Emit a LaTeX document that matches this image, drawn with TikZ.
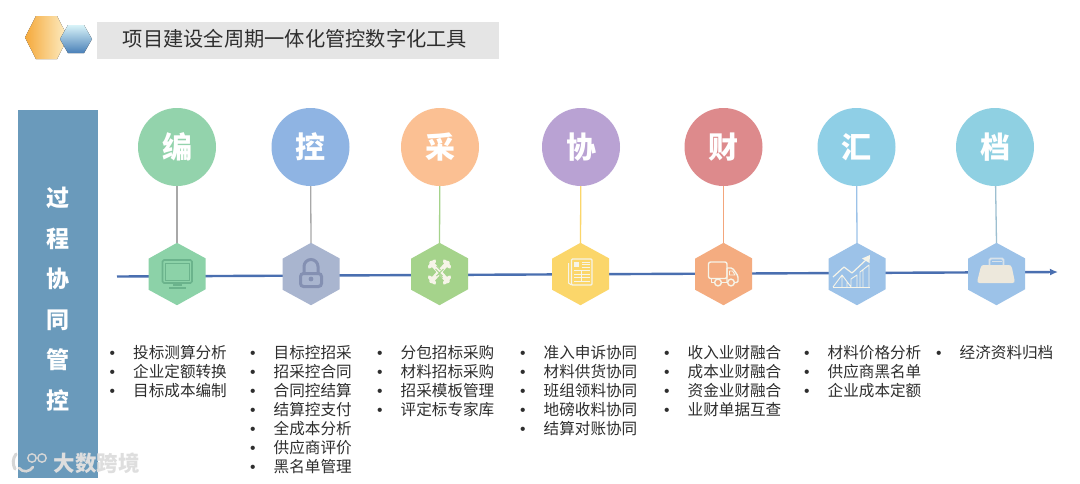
\documentclass[tikz,border=0pt]{standalone}
\usepackage{fontspec}
\setmainfont{Noto Sans CJK SC}
\newfontfamily\latinb{Liberation Sans}
\usetikzlibrary{arrows.meta}
\definecolor{panel}{HTML}{6A9ABB}
\definecolor{spine}{HTML}{4A6FB0}
\definecolor{cA}{HTML}{93D3AC}
\definecolor{cB}{HTML}{8FB4E3}
\definecolor{cC}{HTML}{FBC093}
\definecolor{cD}{HTML}{B9A2D3}
\definecolor{cE}{HTML}{DD8A8C}
\definecolor{cF}{HTML}{8FCFE6}
\definecolor{cG}{HTML}{8FD0E2}
\definecolor{hA}{HTML}{8CD2A8}
\definecolor{hB}{HTML}{A9B5CF}
\definecolor{hC}{HTML}{A5D38B}
\definecolor{hD}{HTML}{FBD66A}
\definecolor{hE}{HTML}{F4AC80}
\definecolor{hF}{HTML}{9CC2E8}
\definecolor{hG}{HTML}{9CC2E8}
\definecolor{sA}{HTML}{A8A8A8}
\definecolor{sB}{HTML}{A8A8A8}
\definecolor{sC}{HTML}{A5D38B}
\definecolor{sD}{HTML}{FBD66A}
\definecolor{sE}{HTML}{F3A67C}
\definecolor{sF}{HTML}{9CC2E8}
\definecolor{sG}{HTML}{9DBFD0}
\definecolor{iconA}{HTML}{6BB38C}
\definecolor{iconB}{HTML}{8490B2}
\definecolor{iconW}{HTML}{F6F4E8}
\definecolor{bagbody}{HTML}{EDE8DC}
\definecolor{baghandle}{HTML}{D8E2EA}
\tikzset{
  x=1pt,y=-1pt,
  topic/.style={circle,minimum size=78pt,inner sep=0pt,text=white,font=\fontsize{30}{30}\selectfont\bfseries},
  hexbox/.style={minimum width=57pt,minimum height=62pt,inner sep=0pt},
  stem/.style={line width=1.3pt},
  spineline/.style={spine,line width=2.4pt,-{Latex[length=8pt,width=7pt]}},
  listing/.style={anchor=north west,align=left,inner sep=0pt,text=black!82,font=\fontsize{15.6}{19}\selectfont},
  sidechar/.style={text=white,font=\fontsize{23}{23}\selectfont\bfseries,inner sep=0pt},
  iconw/.style={draw=iconW,line width=1.2pt,line join=round},
}
\newcommand{\hexa}[4]{%
  \node[hexbox] (#1) at (#2,#3) {};
  \fill[#4] (#1.north) -- ++(28.5,15.5) -- ++(0,31) -- (#1.south) -- ++(-28.5,-15.5) -- ++(0,-31) -- cycle;
}
\newcommand{\bul}{\makebox[23.5pt][l]{{\latinb •}}}
\begin{document}
\begin{tikzpicture}
\useasboundingbox (0,0) rectangle (1080,483);
\fill[white] (0,0) rectangle (1080,483);

% header
\definecolor{logoL}{HTML}{F5A93B}
\definecolor{logoR}{HTML}{FDEFC8}
\definecolor{logoT}{HTML}{D8F3F8}
\definecolor{logoM}{HTML}{86BCC6}
\definecolor{logoB}{HTML}{4A80B8}
\fill[left color=logoL,right color=logoR]
  (25,37.5) -- (36,16) -- (57,16) -- (68,37.5) -- (57,59) -- (36,59) -- cycle;
\fill[top color=logoT,middle color=logoM,bottom color=logoB]
  (60,39) -- (68,25) -- (84,25) -- (92,39) -- (84,53) -- (68,53) -- cycle;
\fill[black!10] (97,22) rectangle (499,59);
\node[inner sep=0pt,text=black!82,font=\fontsize{20.25}{22}\selectfont] (title) at (295,38.5) {项目建设全周期一体化管控数字化工具};

% side panel
\fill[panel] (18,110) rectangle (98,478);
\node[sidechar] (s1) at (58,198) {过};
\node[sidechar] (s2) at (58,239) {程};
\node[sidechar] (s3) at (58,279) {协};
\node[sidechar] (s4) at (58,320) {同};
\node[sidechar] (s5) at (58,360) {管};
\node[sidechar] (s6) at (58,400) {控};

% spine
\coordinate (spineA) at (117,276.5);
\coordinate (spineB) at (1058,272);
\draw[spineline] (spineA) -- (spineB);

% circles
\node[topic,fill=cA] (c1) at (177,147) {编};
\node[topic,fill=cB] (c2) at (310.5,147) {控};
\node[topic,fill=cC] (c3) at (440,147) {采};
\node[topic,fill=cD] (c4) at (581,147) {协};
\node[topic,fill=cE] (c5) at (723.5,147) {财};
\node[topic,fill=cF] (c6) at (856.5,147) {汇};
\node[topic,fill=cG] (c7) at (995,147) {档};

% hexagons
\hexa{h1}{177}{274}{hA}
\hexa{h2}{311}{274}{hB}
\hexa{h3}{439.5}{274}{hC}
\hexa{h4}{580.5}{274}{hD}
\hexa{h5}{723.5}{274}{hE}
\hexa{h6}{857}{274}{hF}
\hexa{h7}{996.5}{274}{hG}

% stems
\draw[stem,sA] (c1) -- (h1.north);
\draw[stem,sB] (c2) -- (h2.north);
\draw[stem,sC] (c3) -- (h3.north);
\draw[stem,sD] (c4) -- (h4.north);
\draw[stem,sE] (c5) -- (h5.north);
\draw[stem,sF] (c6) -- (h6.north);
\draw[stem,sG] (c7) -- (h7.north);

% icon 1: monitor
\begin{scope}[shift={(h1.center)}]
  \draw[iconA,line width=1.6pt,rounded corners=1.5pt] (-14.5,-14) rectangle (15,9);
  \draw[iconA,line width=.8pt] (-11.5,-11) rectangle (12,6);
  \draw[iconA,line width=1.4pt] (-4,11) -- (5,11);
  \draw[iconA,line width=1.6pt] (-8,14) -- (9,14);
\end{scope}
% icon 2: lock
\begin{scope}[shift={(h2.center)}]
  \draw[iconB,line width=3pt,rounded corners=3pt] (-10.5,-0.5) rectangle (10.5,12.5);
  \draw[iconB,line width=3pt] (-7,-1) -- (-7,-7.5) arc[start angle=180,end angle=360,radius=7] -- (7,-1);
  \fill[iconB] (0,5) circle (2.4);
\end{scope}
% icon 3: cross knot
\begin{scope}[shift={(h3.center)},yshift=2pt]
  \draw[iconW,line width=4.6pt,line cap=round] (-8,-9) -- (8,9) (8,-9) -- (-8,9);
  \draw[iconW,line width=3.6pt,line cap=round]
    (-10,-5) -- (-5,-11) (10,-5) -- (5,-11) (-10,5) -- (-5,11) (10,5) -- (5,11);
  \draw[hC,line width=.8pt] (-4,-3) -- (3,4) (4,-3) -- (-3,4) (-3,-6) -- (1,-2) (3,6) -- (-1,2);
\end{scope}
% icon 4: newspaper
\begin{scope}[shift={(h4.center)}]
  \draw[iconw,rounded corners=1pt,line width=1.3pt] (-9,-15) rectangle (11.5,11);
  \draw[iconw,line width=1pt] (-12,-11) -- (-12,9) -- (-9,11);
  \fill[iconW] (-6.5,-12.5) rectangle (-1.5,-7);
  \draw[iconw,line width=.8pt] (1,-12) -- (9,-12) (1,-9.5) -- (9,-9.5) (1,-7) -- (9,-7)
    (-6.5,-3.5) -- (9,-3.5) (-6.5,0) -- (9,0) (-6.5,3.5) -- (9,3.5) (-6.5,7) -- (9,7) (1,-3.5) -- (1,7);
\end{scope}
% icon 5: truck
\begin{scope}[shift={(h5.center)}]
  \draw[iconw,rounded corners=2pt,line width=1.4pt] (-15,-12) rectangle (3.5,4.5);
  \draw[iconw,line width=1.4pt,rounded corners=1.5pt] (3.5,-6) -- (9,-6) -- (14.5,2) -- (14.5,8.5) -- (11,8.5) (3.5,-6) -- (3.5,8.5);
  \draw[iconw,line width=.8pt] (6,-3) -- (9,-3) -- (11.5,1) -- (6,1) -- cycle;
  \draw[iconw,line width=1.4pt] (-12,4.5) -- (-12,8.5) -- (-9,8.5) (-2,8.5) -- (4,8.5);
  \draw[iconw,line width=1.4pt] (-5.5,8.5) circle (3.4);
  \draw[iconw,line width=1.4pt] (7.5,8.5) circle (3.4);
\end{scope}
% icon 6: chart
\begin{scope}[shift={(h6.center)},xshift=-3pt]
  \draw[iconw,line width=1pt] (-21,13) -- (16,13);
  \draw[iconw,line width=.9pt] (-21,13) -- (-12,1) -- (-3,13) (-12,1) -- (-12,13) (-7,7) -- (-7,13)
    (-3,13) -- (-3,5) -- (3,1) -- (3,13) (6,13) -- (6,-2) -- (15,-9) -- (15,13) (9,-4) -- (9,13);
  \draw[iconw,line width=1.2pt] (-21,3) -- (-10,-7) -- (-2,-1) -- (13,-15);
  \fill[iconW] (16,-19) -- (15.5,-11) -- (8,-15.5) -- cycle;
\end{scope}
% icon 7: weight
\begin{scope}[shift={(h7.center)}]
  \fill[bagbody] (-13,-9) -- (12,-9) .. controls (14,-9) and (15,-8) .. (15.5,-6) -- (18,6) .. controls (18.5,8) and (17.5,9) .. (16,9) -- (-17,9) .. controls (-18.5,9) and (-19.5,8) .. (-19,6) -- (-16,-6) .. controls (-15.5,-8) and (-14.5,-9) .. (-13,-9) -- cycle;
  \draw[baghandle,line width=1.8pt,rounded corners=1.5pt] (-7,-9) -- (-7,-15.5) -- (7,-15.5) -- (7,-9);
  \fill[baghandle] (-5,-13) rectangle (5,-12);
\end{scope}

% lists
\node[listing] (l1) at (109.5,345) {\bul 投标测算分析\\\bul 企业定额转换\\\bul 目标成本编制};
\node[listing] (l2) at (250,345) {\bul 目标控招采\\\bul 招采控合同\\\bul 合同控结算\\\bul 结算控支付\\\bul 全成本分析\\\bul 供应商评价\\\bul 黑名单管理};
\node[listing] (l3) at (377,345) {\bul 分包招标采购\\\bul 材料招标采购\\\bul 招采模板管理\\\bul 评定标专家库};
\node[listing] (l4) at (520,345) {\bul 准入申诉协同\\\bul 材料供货协同\\\bul 班组领料协同\\\bul 地磅收料协同\\\bul 结算对账协同};
\node[listing] (l5) at (664,345) {\bul 收入业财融合\\\bul 成本业财融合\\\bul 资金业财融合\\\bul 业财单据互查};
\node[listing] (l6) at (804,345) {\bul 材料价格分析\\\bul 供应商黑名单\\\bul 企业成本定额};
\node[listing] (l7) at (936,345) {\bul 经济资料归档};

% watermark
\draw[black!16,line width=3pt,line cap=round] (16,454) .. controls (12.5,459) and (12.5,464) .. (15,469);
\draw[black!16,line width=2.6pt,line cap=round] (19,468) .. controls (23,473) and (30,472) .. (33,467);
\draw[black!16,line width=1.4pt] (32,458) circle (4.2);
\draw[black!16,line width=1.4pt] (42,458) circle (4.2);
\node[inner sep=0pt,text=black!13,font=\fontsize{21.5}{22}\selectfont\bfseries] (wm) at (96.5,463) {大数跨境};
\end{tikzpicture}
\end{document}
